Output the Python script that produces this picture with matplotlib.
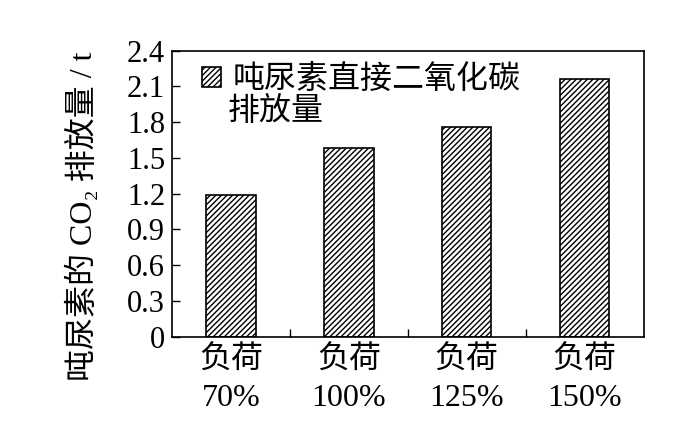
import matplotlib
matplotlib.use('Agg')
import matplotlib.pyplot as plt
from matplotlib.ticker import FixedLocator

categories = ['负荷\n70%', '负荷\n100%', '负荷\n125%', '负荷\n150%']
co2_per_ton = [1.19, 1.58, 1.76, 2.16]
y_ticks = [0, 0.3, 0.6, 0.9, 1.2, 1.5, 1.8, 2.1, 2.4]
y_ticklabels = ['0', '0.3', '0.6', '0.9', '1.2', '1.5', '1.8', '2.1', '2.4']
legend_lines = ['吨尿素直接二氧化碳', '排放量']

FAM = ['Liberation Serif', 'Noto Sans CJK SC', 'DejaVu Sans']
plt.rcParams['font.family'] = FAM
plt.rcParams['hatch.linewidth'] = 1.0

fig = plt.figure(figsize=(6.97, 4.29), dpi=100)
ax = fig.add_axes([0.2468, 0.2156, 0.6765, 0.6662])

x = range(len(categories))
ax.bar(x, co2_per_ton, width=0.42, color='white', edgecolor='black',
       hatch='//////', linewidth=1.2, label=legend_lines[0])

ax.set_xlim(-0.5, 3.5)
ax.set_ylim(0, 2.4)
ax.set_yticks(y_ticks)
ax.set_yticklabels(y_ticklabels, fontsize=22)
ax.set_xticks(list(x))
ax.set_xticklabels(categories, fontsize=23, linespacing=1.4)
ax.xaxis.set_minor_locator(FixedLocator([0.5, 1.5, 2.5]))
ax.tick_params(axis='x', which='major', length=0, pad=7)
ax.tick_params(axis='x', which='minor', direction='in', length=6, width=1)
ax.tick_params(axis='y', direction='in', length=6, width=1, pad=5)
for s in ax.spines.values():
    s.set_linewidth(1.2)

ax.set_ylabel('吨尿素的 CO₂ 排放量 / t', fontsize=23)
ax.yaxis.set_label_coords(-0.155, 0.42)

# legend: first line next to the swatch, second line underneath
ax.legend(loc='upper left', frameon=False, fontsize=23,
          handlelength=0.6, handleheight=0.6, handletextpad=0.35,
          borderaxespad=0.0, bbox_to_anchor=(0.037, 0.995))
ax.text(0.118, 0.7855, legend_lines[1], transform=ax.transAxes,
        fontsize=23, ha='left', va='center')

fig.savefig('out.png', dpi=100)
